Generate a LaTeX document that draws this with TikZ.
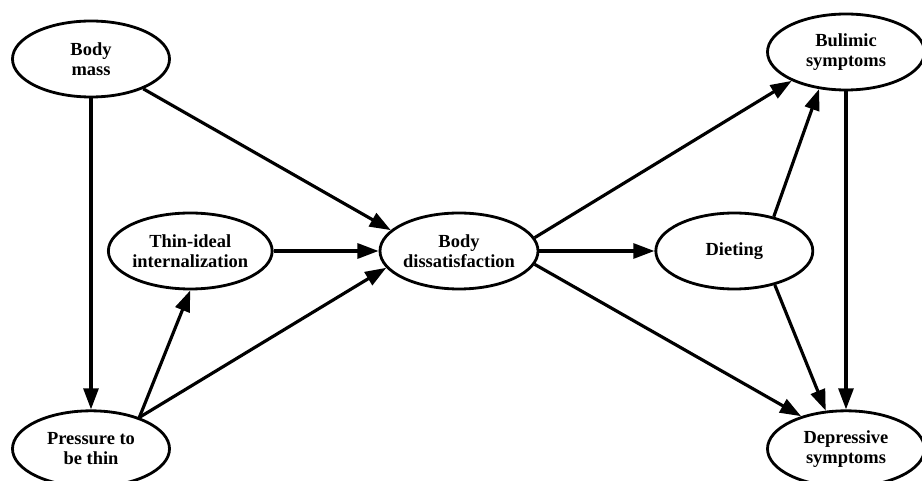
\documentclass[tikz,border=0pt]{standalone}
\usepackage{fontspec}
\setmainfont{Liberation Serif}
\usetikzlibrary{shapes, arrows.meta, positioning}

\begin{document}
\begin{tikzpicture}[
  >={Triangle[length=12pt, width=8.5pt]},
  varnode/.style={draw, ellipse, line width=1.6pt, minimum width=3.14cm, minimum height=1.52cm, inner sep=0pt, font=\bfseries\fontsize{10.5}{11.2}\selectfont, align=center},
  effect/.style={->, line width=1.8pt}
]
\useasboundingbox (0,0) rectangle (18.44,-9.62);

% Left side: body mass and pressure
\node[varnode]  (bmass)  at (1.82,-1.18) {Body\\mass};
\node[varnode]  (press)  [below=6.22cm of bmass] {Pressure to\\be thin};

% Middle row
\node[varnode]  (diss)   at (9.18,-5.02) {Body\\dissatisfaction};
\node[varnode]  (thin)   [left=2.1cm of diss] {Thin-ideal\\internalization};
\node[varnode]  (diet)   [right=2.3cm of diss] {Dieting};

% Right side: outcomes
\node[varnode]  (bul)    at (16.92,-1.04) {Bulimic\\symptoms};
\node[varnode]  (dep)    [below=6.36cm of bul] {Depressive\\symptoms};

% Flows
\draw[effect] (bmass) -- (press);
\draw[effect] (bmass) -- (diss.163);
\draw[effect] (press.33) -- (thin.south);
\draw[effect] (press.33) -- (diss.193);
\draw[effect] (thin) -- (diss);
\draw[effect] (diss) -- (diet);

% Outcomes
\draw[effect] (diss.10) -- (bul.208);
\draw[effect] (diss.-10) -- (dep.144);
\draw[effect] (diet.41) -- (bul.234);
\draw[effect] (diet.-40) -- (dep.118);
\draw[effect] (bul) -- (dep);
\end{tikzpicture}
\end{document}
